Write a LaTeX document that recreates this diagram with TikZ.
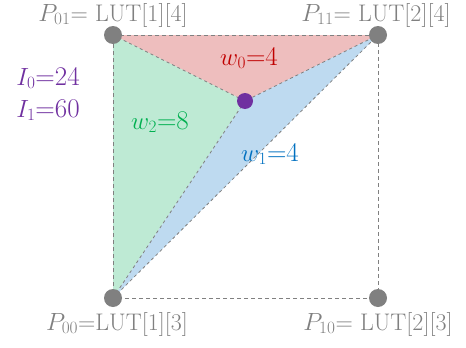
\documentclass[tikz,border=0pt]{standalone}
\usepackage{amsmath}
\usepackage{xcolor}
\usepackage{tikz}
\usetikzlibrary{positioning, calc, backgrounds}
\definecolor{cGray}{RGB}{128,128,128}
\definecolor{cPurple}{RGB}{112,48,160}
\definecolor{cRed}{RGB}{192,0,0}
\definecolor{cGreen}{RGB}{0,176,80}
\definecolor{cBlue}{RGB}{0,112,192}
\definecolor{fRed}{RGB}{238,190,190}
\definecolor{fGreen}{RGB}{190,234,212}
\definecolor{fBlue}{RGB}{190,218,240}
\tikzset{
	corner/.style  ={circle, fill=cGray, minimum size=18pt, inner sep=0pt},
	query/.style   ={circle, fill=cPurple, minimum size=16pt, inner sep=0pt},
	cornlbl/.style ={text=cGray, font=\fontsize{24}{28}\selectfont, inner sep=0pt},
	wlbl/.style    ={font=\fontsize{27}{31}\selectfont, inner sep=0pt},
	edge/.style    ={dashed, cGray, line width=0.8pt},
	sqedge/.style  ={dashed, cGray, line width=0.9pt, dash pattern=on 4pt off 3pt},
}
\begin{document}
\begin{tikzpicture}[x=1pt, y=-1pt]
	\useasboundingbox (0,0) rectangle (466,348);
	% grid points
	\node[corner] (p01) at (113,35) {};
	\node[corner] (p11) at (378,35) {};
	\node[corner] (p00) at (113,298) {};
	\node[corner] (p10) at (378,298) {};
	\node[query] (m) at (245,101) {};
	% sub-triangles
	\begin{scope}[on background layer]
		\fill[fRed] (p01.center) -- (p11.center) -- (m.center) -- cycle;
		\fill[fGreen] (p01.center) -- (m.center) -- (p00.center) -- cycle;
		\fill[fBlue] (p00.center) -- (m.center) -- (p11.center) -- cycle;
		\draw[sqedge] (p01.center) -- (p11.center) -- (p10.center) -- (p00.center) -- cycle;
		\draw[edge] (p01.center) -- (m.center) -- (p11.center);
		\draw[edge] (m.center) -- (p00.center);
		\draw[edge] (p00.center) -- (p11.center);
	\end{scope}
	% labels
	\node[cornlbl] (l01) at (113,15) {$P_{01}$= LUT[1][4]};
	\node[cornlbl] (l11) at (376,15) {$P_{11}$= LUT[2][4]};
	\node[cornlbl] (l00) at (117,324) {$P_{00}$=LUT[1][3]};
	\node[cornlbl] (l10) at (378,324) {$P_{10}$= LUT[2][3]};
	\node[wlbl, text=cRed] (w0) at (249,58) {$w_0$=4};
	\node[wlbl, text=cGreen] (w2) at (160,122) {$w_2$=8};
	\node[wlbl, text=cBlue] (w1) at (270,154) {$w_1$=4};
	\node[wlbl, text=cPurple] (i0) at (48,78) {$I_0$=24};
	\node[wlbl, text=cPurple, below=10pt of i0] (i1) {$I_1$=60};
\end{tikzpicture}
\end{document}
